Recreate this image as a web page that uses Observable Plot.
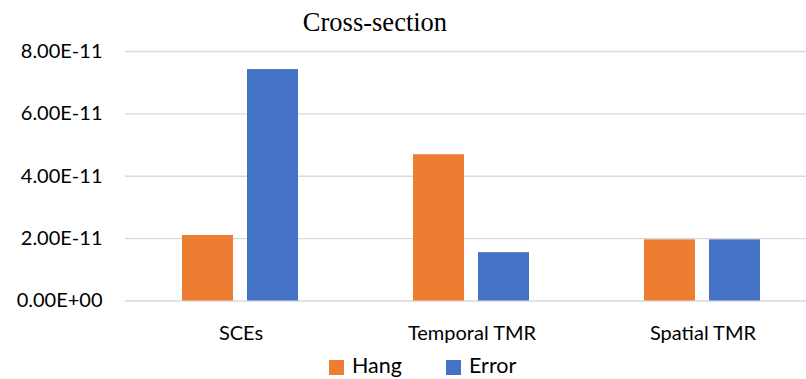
<!DOCTYPE html>
<html>
<head>
<meta charset="utf-8">
<script src="https://cdn.jsdelivr.net/npm/d3@7"></script>
<script src="https://cdn.jsdelivr.net/npm/@observablehq/plot@0.6"></script>
<style>
  html, body { margin: 0; padding: 0; background: #fff; }
  #wrap { width: 806px; height: 379px; overflow: hidden; position: relative; }
  #title { width: 750px; height: 36px; line-height: 36px; text-align: center; position: relative;
           font-family: "Liberation Serif", serif; font-size: 26.5px; color: #000; }
  #title span { position: relative; top: 4px; }
  #chart svg { overflow: hidden; display: block; }
  #legend { position: relative; height: 21px; font-family: Lato, sans-serif; font-size: 21.5px; line-height: 21px; color: #000; }
  .item { position: absolute; top: 0; white-space: nowrap; }
  .sw { display: inline-block; width: 15px; height: 15px; vertical-align: top; margin-top: 5px; margin-right: 8px; }
</style>
</head>
<body>
<div id="wrap">
  <div id="title"><span>Cross-section</span></div>
  <div id="chart"></div>
  <div id="legend"></div>
</div>
<script>
const categories = ["SCEs", "Temporal TMR", "Spatial TMR"];
const series = ["Hang", "Error"];
const hang = [2.1e-11, 4.69e-11, 1.96e-11];
const error = [7.42e-11, 1.55e-11, 1.96e-11];
const yTicks = [0, 2e-11, 4e-11, 6e-11, 8e-11];
const colors = ["#ED7D31", "#4472C4"];

const data = [];
categories.forEach((c, i) => {
  data.push({category: c, series: "Hang", value: hang[i]});
  data.push({category: c, series: "Error", value: error[i]});
});

function fmt(d) {
  const [m, e] = d.toExponential(2).split("e");
  const sign = e[0] === "-" ? "-" : "+";
  return m.toUpperCase() + "E" + sign + String(Math.abs(+e)).padStart(2, "0");
}

const T = 36;
const H = 355 - T;
const chart = Plot.plot({
  width: 806,
  height: H,
  marginTop: 51 - T,
  marginBottom: H - (300.5 - T),
  marginLeft: 124,
  marginRight: 0,
  style: {fontFamily: "Lato, sans-serif", fontSize: "20px", color: "#000", background: "#fff"},
  facet: {data: data, x: "category", marginBottom: H - (300.5 - T)},
  fx: {domain: categories, range: [124, 818], padding: 0, label: null, axis: "bottom", tickSize: 0, tickPadding: 25},
  x: {domain: series, paddingInner: 0.213, paddingOuter: 0.8675, axis: null},
  y: {domain: [0, 8e-11], ticks: yTicks, tickFormat: fmt, tickSize: 0, tickPadding: 23, label: null},
  color: {domain: series, range: colors},
  marks: [
    Plot.ruleY(yTicks, {stroke: "#d9d9d9", strokeWidth: 1.4}),
    Plot.barY(data, {x: "series", y: "value", fill: "series"})
  ]
});
document.getElementById("chart").appendChild(chart);

const legend = document.getElementById("legend");
const lx = [329, 446];
series.forEach((s, i) => {
  const it = document.createElement("span");
  it.className = "item";
  it.style.left = lx[i] + "px";
  const sw = document.createElement("span");
  sw.className = "sw";
  sw.style.background = colors[i];
  it.appendChild(sw);
  it.appendChild(document.createTextNode(s));
  legend.appendChild(it);
});
</script>
</body>
</html>
